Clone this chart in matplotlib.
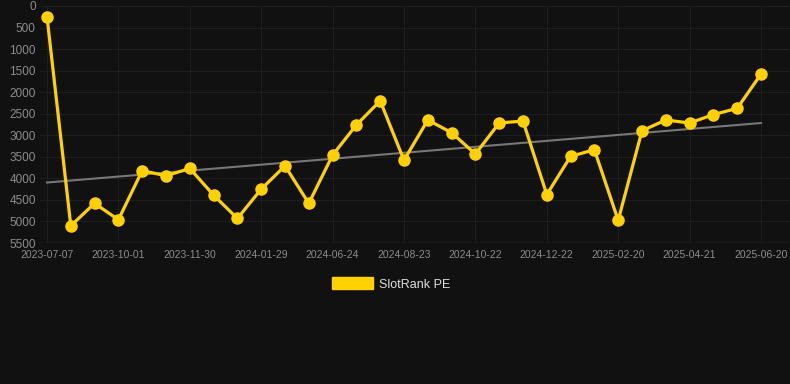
import numpy as np
import matplotlib.pyplot as plt

# data (rank, lower is better; axis inverted)
dates = ['2023-07-07', '2023-08-04', '2023-09-02', '2023-10-01', '2023-10-21',
         '2023-11-10', '2023-11-30', '2023-12-20', '2024-01-09', '2024-01-29',
         '2024-03-10', '2024-05-01', '2024-06-24', '2024-07-14', '2024-08-03',
         '2024-08-23', '2024-09-12', '2024-10-02', '2024-10-22', '2024-11-11',
         '2024-12-01', '2024-12-22', '2025-01-11', '2025-01-31', '2025-02-20',
         '2025-03-12', '2025-04-01', '2025-04-21', '2025-05-11', '2025-05-31',
         '2025-06-20']
rank = [250, 5100, 4580, 4960, 3820, 3940, 3770, 4390, 4930, 4250,
        3710, 4580, 3460, 2760, 2200, 3580, 2645, 2940, 3435, 2715,
        2670, 4375, 3490, 3335, 4975, 2895, 2645, 2715, 2520, 2375,
        1580]
yticks = [0, 500, 1000, 1500, 2000, 2500, 3000, 3500, 4000, 4500, 5000, 5500]

plt.rcParams['font.family'] = ['Liberation Sans', 'DejaVu Sans']

bg = '#111111'
fig = plt.figure(figsize=(7.9, 3.84), dpi=100, facecolor=bg)
ax = fig.add_axes([40/790, 1-243/384, 750/790, 237/384], facecolor=bg)

x = np.arange(len(rank))
coef = np.polyfit(x, rank, 1)
ax.plot(x, np.polyval(coef, x), color='#777777', lw=1.5, zorder=2)
ax.plot(x, rank, color='#FFD100', lw=2.3, marker='o', ms=8, zorder=3,
        label='SlotRank PE')

ax.set_ylim(5500, 0)
ax.set_yticks(yticks)
ax.set_xlim(-7/23.8, 30 + 29/23.8)
ax.set_xticks(x[::3])
ax.set_xticklabels(dates[::3])

ax.grid(True, color='#1e1e1e', lw=0.8)
ax.axhline(5500, color='#2c2c2c', lw=1, zorder=1)
for s in ax.spines.values():
    s.set_visible(False)
ax.tick_params(axis='y', length=0, pad=3, labelsize=8.5, labelcolor='#8c8c8c')
ax.tick_params(axis='x', length=0, pad=5, labelsize=7.5, labelcolor='#8c8c8c')

leg = fig.legend(loc='center', bbox_to_anchor=(391/790, 1-284/384), frameon=False,
                 handles=[plt.Rectangle((0, 0), 1, 1, color='#FFD100')],
                 labels=['SlotRank PE'], fontsize=9, handlelength=3.3,
                 handleheight=1.1, handletextpad=0.5)
for t in leg.get_texts():
    t.set_color('#dddddd')

fig.savefig('out.png', dpi=100, facecolor=bg)
